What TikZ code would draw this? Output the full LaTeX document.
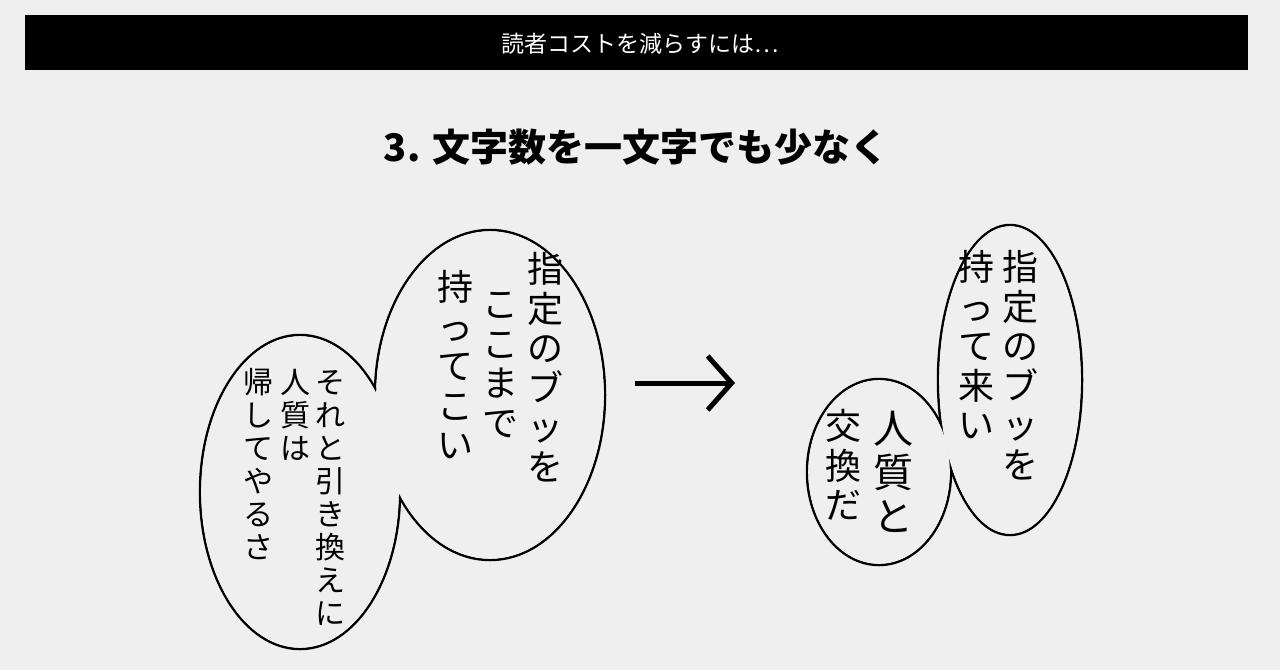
\documentclass[tikz,border=0pt]{standalone}
\usepackage{fontspec}
\newfontfamily\cjk{Noto Sans CJK JP}
\usetikzlibrary{arrows.meta}
\makeatletter
\newcommand\vcol[1]{\vbox{\offinterlineskip\vt@aux#1\relax}}
\def\vt@aux#1{\ifx\relax#1\else\hbox{\rule{0pt}{0.95em}\hbox to 1em{\hss#1\hss}\rule[-0.15em]{0pt}{0.15em}}\expandafter\vt@aux\fi}
\makeatother
\definecolor{bg}{HTML}{EFEFEF}
\tikzset{
  bubble/.style={draw=black, line width=2.5pt},
  bubblefill/.style={fill=bg, draw=none},
  col/.style={anchor=north, inner sep=0pt, font=\cjk\fontsize{#1}{#1}\selectfont},
}
\begin{document}
\begin{tikzpicture}[x=1pt,y=-1pt]
\fill[bg] (0,0) rectangle (1280,670);
\useasboundingbox (0,0) rectangle (1280,670);
\fill[black] (25,15) rectangle (1248,70);
\node[font=\cjk\fontsize{23}{23}\selectfont, text=white] (hdr) at (640,44) {読者コストを減らすには…};
\node[font=\cjk\fontsize{38}{38}\selectfont\bfseries] (title) at (636,147) {3. 文字数を一文字でも少なく};
% left cluster
\draw[bubble] (490,395) ellipse [x radius=115, y radius=165];
\draw[bubble] (300,492) ellipse [x radius=100, y radius=157];
\fill[bubblefill] (490,395) ellipse [x radius=113.8, y radius=163.8];
\fill[bubblefill] (300,492) ellipse [x radius=98.8, y radius=155.8];
\node[col=36] (l1) at (545,248) {\vcol{指定のブッを}};
\node[col=36] (l2) at (500,283) {\vcol{ここまで}};
\node[col=36] (l3) at (455,266) {\vcol{持ってこい}};
\node[col=30] (s1) at (330,365) {\vcol{それと引き換えに}};
\node[col=30] (s2) at (295,365) {\vcol{人質は}};
\node[col=30] (s3) at (258,365) {\vcol{帰してやるさ}};
% arrow
\coordinate (a1) at (635,383);
\coordinate (a2) at (735,383);
\draw[line width=5pt, -{Straight Barb[length=24pt,width=54pt,line width=5pt]}] (a1) -- (a2);
% right cluster
\draw[bubble] (1010,380) ellipse [x radius=72, y radius=155];
\draw[bubble] (879,472) ellipse [x radius=72, y radius=93];
\fill[bubblefill] (1010,380) ellipse [x radius=70.8, y radius=153.8];
\fill[bubblefill] (879,472) ellipse [x radius=70.8, y radius=91.8];
\node[col=36] (r1) at (1020,246) {\vcol{指定のブッを}};
\node[col=36] (r2) at (976,246) {\vcol{持って来い}};
\node[col=40] (r3) at (893,405) {\vcol{人質と}};
\node[col=36] (r4) at (843,405) {\vcol{交換だ}};
\end{tikzpicture}
\end{document}
